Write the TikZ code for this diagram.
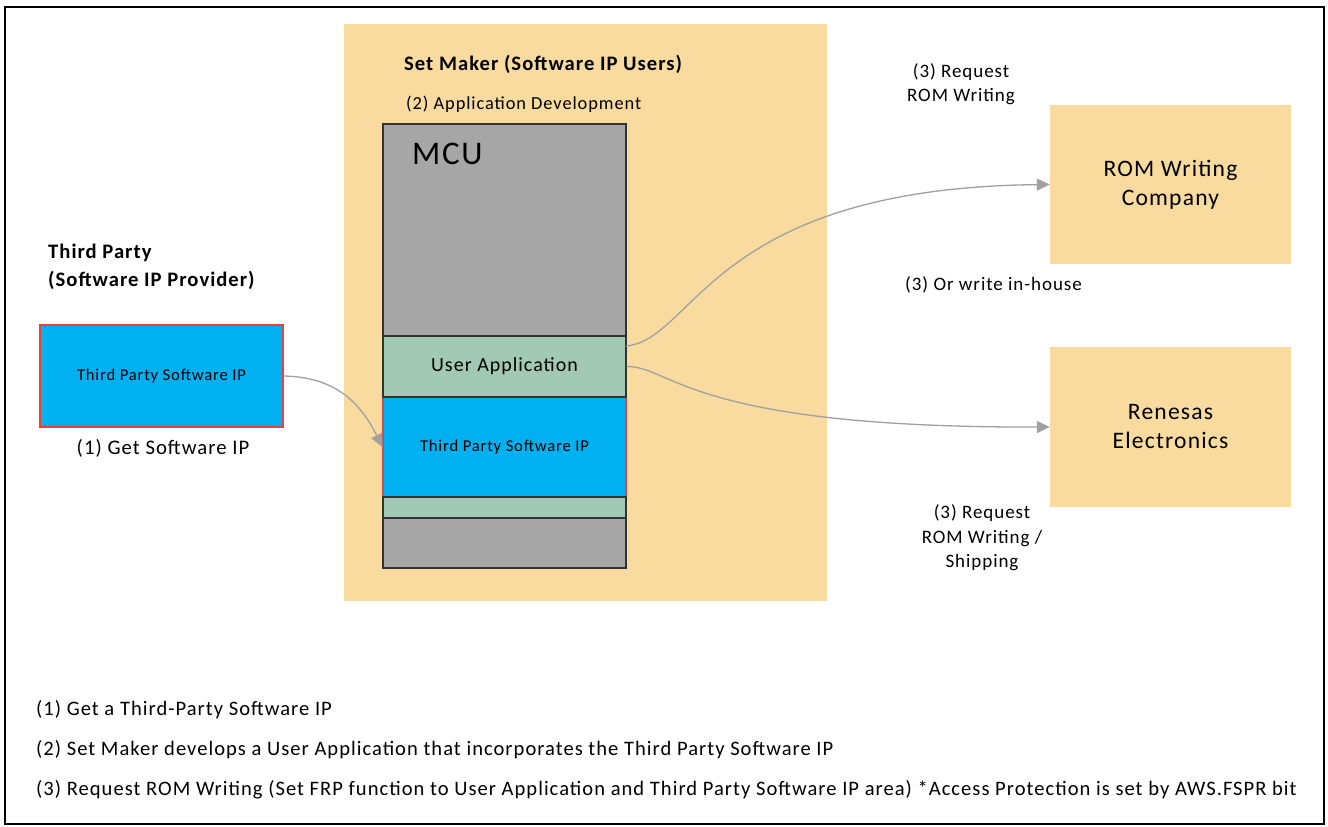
\documentclass[tikz,border=0pt]{standalone}
\usepackage{fontspec}
\setmainfont{Carlito}[LetterSpace=5]
\usetikzlibrary{arrows.meta}
\newlength{\du}
\setlength{\du}{1pt}
\definecolor{makerfill}{RGB}{249,219,160}
\definecolor{mcugray}{RGB}{166,166,166}
\definecolor{appgreen}{RGB}{161,201,180}
\definecolor{ipblue}{RGB}{0,176,240}
\definecolor{ipred}{RGB}{232,64,64}
\definecolor{flowgray}{RGB}{160,160,160}
\tikzset{
  block/.style={draw=black!80, line width=1.2\du, inner sep=0pt, align=center},
  ipblock/.style={block, draw=ipred, fill=ipblue, font=\fontsize{16.6}{18}\selectfont},
  appblock/.style={block, fill=appgreen},
  partner/.style={fill=makerfill, inner sep=0pt, align=center, minimum width=241\du, font=\fontsize{23.6}{29}\selectfont},
  lbl/.style={inner sep=0pt, align=center, font=\fontsize{19}{24.5}\selectfont},
  heading/.style={inner sep=0pt, align=left, font=\fontsize{20.6}{28}\selectfont\bfseries},
  note/.style={inner sep=0pt, anchor=west, font=\fontsize{20.55}{22}\selectfont},
  flow/.style={draw=flowgray, line width=1.3\du, -{Triangle[length=13pt,width=12pt]}},
}
\begin{document}
\begin{tikzpicture}
\pgftransformxscale{1.000000}
\pgftransformyscale{-1.000000}
\useasboundingbox (0\du,0\du) rectangle (1328\du,827\du);
% frame
\draw[line width=2.4\du] (5\du,7\du) rectangle (1324\du,824\du);
% set maker area
\node[fill=makerfill, inner sep=0pt, minimum width=483\du, minimum height=577\du] (maker) at (585.5\du,312.5\du) {};
\node[heading, anchor=west] (makerlbl) at (404\du,64\du) {Set Maker (Software IP Users)};
\node[lbl, anchor=west, font=\fontsize{18.4}{20}\selectfont] (devlbl) at (406\du,104\du) {(2) Application Development};
% mcu
\node[block, fill=mcugray, minimum width=243\du, minimum height=444\du] (mcu) at (504.5\du,346\du) {};
\node[inner sep=0pt, anchor=west, font=\fontsize{33}{34}\selectfont] (mculbl) at (412\du,154\du) {MCU};
\node[ipblock, minimum width=243\du, minimum height=100\du] (mcuip) at (504.5\du,447\du) {Third Party Software IP};
\node[appblock, minimum width=243\du, minimum height=61\du, font=\fontsize{20}{22}\selectfont] (userapp) at (504.5\du,366.5\du) {User Application};
\node[appblock, minimum width=243\du, minimum height=21\du] (strip) at (504.5\du,507.5\du) {};
% third party
\node[heading, anchor=west] (tplbl) at (48\du,267\du) {Third Party\\(Software IP Provider)};
\node[ipblock, minimum width=243\du, minimum height=102\du] (tpsrc) at (161.5\du,376\du) {Third Party Software IP};
\node[lbl, font=\fontsize{20.7}{24}\selectfont] (getlbl) at (163\du,448\du) {(1) Get Software IP};
% partners
\node[partner, minimum height=159\du] (romco) at (1170.5\du,184.5\du) {ROM Writing\\Company};
\node[partner, minimum height=160\du] (renesas) at (1170.5\du,427\du) {Renesas\\Electronics};
\node[lbl] (reqlbl) at (961\du,84\du) {(3) Request\\ROM Writing};
\node[lbl, anchor=west] (houselbl) at (905\du,285\du) {(3) Or write in-house};
\node[lbl] (shiplbl) at (982\du,538\du) {(3) Request\\ROM Writing /\\Shipping};
% flows
\coordinate (appout) at (626\du,346\du);
\draw[flow] (tpsrc.east) .. controls (335\du,377\du) and (360\du,402\du) .. (mcuip.west);
\draw[flow] (appout) .. controls (695\du,340\du) and (710\du,188\du) .. (romco.west);
\draw[flow] (userapp.east) .. controls (672\du,366\du) and (688\du,428\du) .. (renesas.west);
% notes
\node[note] (note1) at (36\du,710\du) {(1) Get a Third-Party Software IP};
\node[note] (note2) at (36\du,750\du) {(2) Set Maker develops a User Application that incorporates the Third Party Software IP};
\node[note] (note3) at (36\du,790\du) {(3) Request ROM Writing (Set FRP function to User Application and Third Party Software IP area) *Access Protection is set by AWS.FSPR bit};
\end{tikzpicture}
\end{document}
